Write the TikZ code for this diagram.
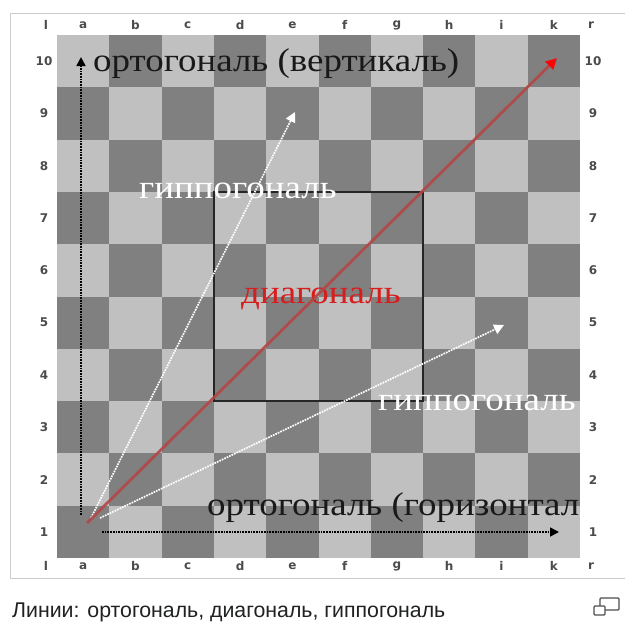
\documentclass[tikz,border=0pt]{standalone}
\usepackage{fontspec}
\setmainfont{Liberation Serif}
\newfontfamily\capfont{Liberation Sans}
\newfontfamily\lblfont{DejaVu Sans}
\usetikzlibrary{arrows.meta}
\definecolor{sqdark}{RGB}{128,128,128}
\definecolor{sqlight}{RGB}{192,192,192}
\definecolor{framegray}{RGB}{200,204,209}
\definecolor{lblgray}{RGB}{75,75,75}
\definecolor{diagred}{RGB}{180,70,70}
\definecolor{txtred}{RGB}{215,30,30}
\definecolor{captxt}{RGB}{32,33,34}
\tikzset{
  coordlbl/.style={font=\lblfont\bfseries\fontsize{12}{12}\selectfont, text=lblgray, inner sep=0pt},
  bigtxt/.style={font=\fontsize{33}{33}\selectfont, inner sep=0pt, anchor=base west, xscale=1.12},
  orthoarrow/.style={black, densely dotted, line width=1.7pt, -{Triangle[length=9pt,width=9pt]}},
  hipparrow/.style={white, densely dotted, line width=1.7pt, -{Triangle[length=10pt,width=10pt]}},
  diagarrow/.style={diagred, line width=2.8pt, opacity=0.9, -{Triangle[length=11pt,width=11pt,color=red]}},
}
\begin{document}
\begin{tikzpicture}[x=1pt,y=-1pt]
\useasboundingbox (0,0) rectangle (625,630);
\fill[white] (0,0) rectangle (625,630);
% frame
\draw[framegray, line width=1pt] (625,13) -- (10,13) -- (10,578) -- (625,578);
% board
\def\bx{57}\def\by{35}\def\sq{52.3}
\foreach \i in {0,...,9}{
  \foreach \j in {1,...,10}{
    \pgfmathtruncatemacro{\parity}{mod(\i+\j-1,2)}
    \ifnum\parity=0 \def\col{sqdark}\else\def\col{sqlight}\fi
    \fill[\col] ({\bx+\i*\sq},{\by+(10-\j)*\sq}) rectangle ++(\sq,\sq);
  }
}
% center box d4-g7
\draw[black!85, line width=1.3pt] ({\bx+3*\sq},{\by+3*\sq}) rectangle ({\bx+7*\sq},{\by+7*\sq});
% file labels
\foreach \f [count=\k from 0] in {a,b,c,d,e,f,g,h,i,k}{
  \node[coordlbl] (top\f) at ({\bx+\sq/2+\k*\sq},25) {\f};
  \node[coordlbl] (bot\f) at ({\bx+\sq/2+\k*\sq},566) {\f};
}
\node[coordlbl] (topl) at (46,25) {l};
\node[coordlbl] (botl) at (46,566) {l};
\node[coordlbl] (topr) at (591,25) {r};
\node[coordlbl] (botr) at (591,566) {r};
% rank labels
\foreach \j in {1,...,10}{
  \node[coordlbl] (left\j) at (44,{\by+(10-\j)*\sq+\sq/2}) {\j};
  \node[coordlbl] (right\j) at (593,{\by+(10-\j)*\sq+\sq/2}) {\j};
}
% texts
\node[bigtxt, text=black!90] (vert) at (93,71) {ортогональ (вертикаль)};
\node[bigtxt, text=white] (hip1) at (139,198) {гиппогональ};
\node[bigtxt, text=txtred] (diag) at (241,303) {диагональ};
\node[bigtxt, text=white] (hip2) at (378,410) {гиппогональ};
\begin{scope}
\clip (\bx,\by) rectangle ({\bx+10*\sq},{\by+10*\sq});
\node[bigtxt, text=black!90] (horz) at (207,515) {ортогональ (горизонтал};
\end{scope}
% arrows
\coordinate (vs) at (81,515);
\coordinate (ve) at (81,57);
\coordinate (hs) at (102,532);
\coordinate (he) at (559,532);
\coordinate (ds) at (87,523);
\coordinate (de) at (557,58);
\coordinate (h1s) at (91,518);
\coordinate (h1e) at (295,112);
\coordinate (h2s) at (100,518);
\coordinate (h2e) at (504,325);
\draw[orthoarrow] (vs) -- (ve);
\draw[orthoarrow] (hs) -- (he);
\draw[hipparrow] (h1s) -- (h1e);
\draw[hipparrow] (h2s) -- (h2e);
\draw[diagarrow] (ds) -- (de);
% caption
\node[font=\capfont\fontsize{21.3}{21.3}\selectfont, text=captxt, anchor=west, inner sep=0pt] (caption) at (12,612) {Линии: ортогональ, диагональ, гиппогональ};
% enlarge icon
\draw[captxt!80, line width=1.2pt, rounded corners=1pt] (600,598) rectangle (619,610);
\draw[captxt!80, fill=white, line width=1.2pt, rounded corners=1pt] (594,606) rectangle (605,615);
\end{tikzpicture}
\end{document}
